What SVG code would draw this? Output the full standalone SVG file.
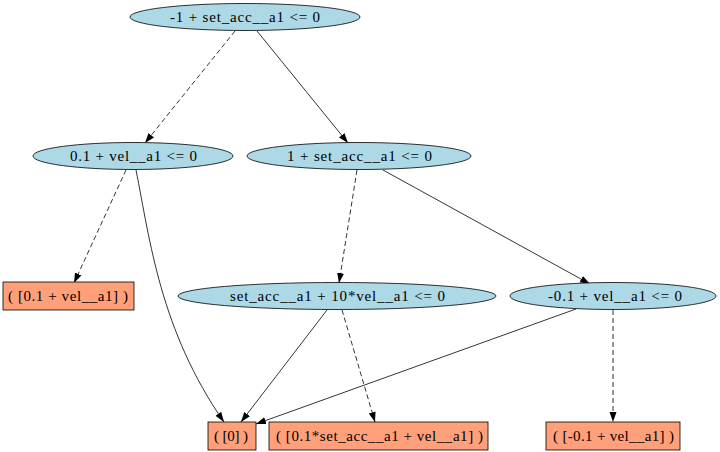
<svg xmlns="http://www.w3.org/2000/svg" width="720" height="452" viewBox="0 0 720 452">
<style>
.n ellipse{fill:#add8e6;stroke:#000;stroke-width:0.8}
.n rect{fill:#ffa07a;stroke:#000;stroke-width:0.8}
.t{font-size:15px;text-anchor:middle;fill:#000}
.e path{fill:none;stroke:#000;stroke-width:0.8}
.d{stroke-dasharray:5,3}
</style>
<defs>
<marker id="a" viewBox="0 0 10 10" refX="10" refY="5" markerWidth="10" markerHeight="10" markerUnits="userSpaceOnUse" orient="auto">
<path d="M0,1.5 L10,5 L0,8.5 Z" fill="#000"/>
</marker>
</defs>
<rect width="720" height="452" fill="#fff"/>
<g class="e">
<path class="d" d="M235,31 L145,143" marker-end="url(#a)"/>
<path d="M257,31 L348,143" marker-end="url(#a)"/>
<path class="d" d="M126,170 L74,283" marker-end="url(#a)"/>
<path d="M136,170 C150,240 160,330 224,422" marker-end="url(#a)"/>
<path class="d" d="M357,170 L339,283" marker-end="url(#a)"/>
<path d="M383,170 L590,284" marker-end="url(#a)"/>
<path d="M327,310 L241,422" marker-end="url(#a)"/>
<path class="d" d="M342,310 L375,422" marker-end="url(#a)"/>
<path d="M576,309 L256,424" marker-end="url(#a)"/>
<path class="d" d="M613,310 L613,422" marker-end="url(#a)"/>
</g>
<g font-family="'Liberation Serif', 'Times New Roman', 'DejaVu Serif', serif">
<g id="n0" class="n"><ellipse cx="245" cy="17" rx="115" ry="13.5"/><text class="t" x="245" y="21.5" textLength="150" lengthAdjust="spacing">-1 + set_acc__a1 &lt;= 0</text></g>
<g id="n1" class="n"><ellipse cx="133" cy="156" rx="100" ry="13.5"/><text class="t" x="133.5" y="160.5" textLength="127" lengthAdjust="spacing">0.1 + vel__a1 &lt;= 0</text></g>
<g id="n2" class="n"><ellipse cx="359" cy="156" rx="112" ry="13.5"/><text class="t" x="359.5" y="160.5" textLength="145" lengthAdjust="spacing">1 + set_acc__a1 &lt;= 0</text></g>
<g id="n3" class="n"><rect x="3" y="282" width="131" height="28"/><text class="t" x="68" y="300.5" textLength="120" lengthAdjust="spacing">( [0.1 + vel__a1] )</text></g>
<g id="n4" class="n"><ellipse cx="337" cy="296" rx="159" ry="13.5"/><text class="t" x="337.5" y="300.5" textLength="215" lengthAdjust="spacing">set_acc__a1 + 10*vel__a1 &lt;= 0</text></g>
<g id="n5" class="n"><ellipse cx="613" cy="296" rx="103" ry="13.5"/><text class="t" x="615" y="300.5" textLength="134" lengthAdjust="spacing">-0.1 + vel__a1 &lt;= 0</text></g>
<g id="n6" class="n"><rect x="208" y="422" width="48" height="28"/><text class="t" x="231" y="440.5" textLength="34" lengthAdjust="spacing">( [0] )</text></g>
<g id="n7" class="n"><rect x="269" y="422" width="219" height="28"/><text class="t" x="379.5" y="440.5" textLength="207" lengthAdjust="spacing">( [0.1*set_acc__a1 + vel__a1] )</text></g>
<g id="n8" class="n"><rect x="546" y="422" width="134" height="28"/><text class="t" x="613.5" y="440.5" textLength="121" lengthAdjust="spacing">( [-0.1 + vel__a1] )</text></g>
</g>
</svg>
